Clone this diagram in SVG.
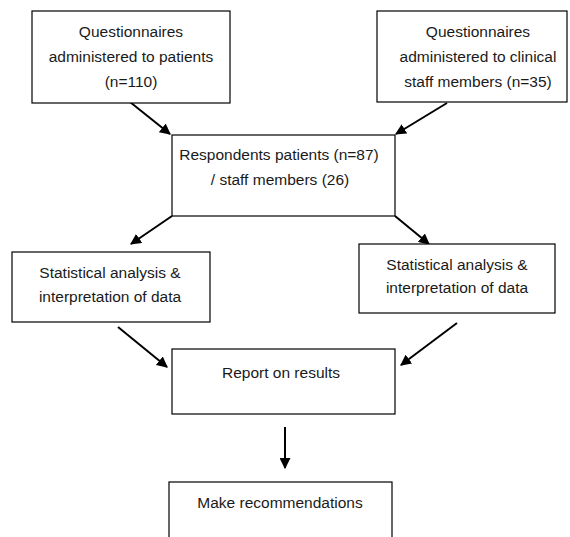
<svg xmlns="http://www.w3.org/2000/svg" width="570" height="537" viewBox="0 0 570 537">
<defs>
<style>
.box{fill:#fff;stroke:#000;stroke-width:1.2}
.t{font-family:"Liberation Sans",Arial,sans-serif;font-size:15.5px;fill:#1a1a1a;text-anchor:middle}
.c{stroke:#000;stroke-width:2;fill:none;marker-end:url(#ah)}
</style>
<marker id="ah" viewBox="0 0 10 10" refX="9" refY="5" markerWidth="5.5" markerHeight="5.5" orient="auto" markerUnits="strokeWidth">
<path d="M0,0 L10,5 L0,10 z" fill="#000"/>
</marker>
</defs>
<rect width="570" height="537" fill="#fff"/>
<g id="connectors">
<line class="c" x1="130" y1="102" x2="170" y2="134"/>
<line class="c" x1="447" y1="103" x2="396" y2="134"/>
<line class="c" x1="172" y1="216" x2="131" y2="244"/>
<line class="c" x1="395" y1="216" x2="429" y2="244"/>
<line class="c" x1="118" y1="327" x2="167" y2="367"/>
<line class="c" x1="457" y1="323" x2="401" y2="365"/>
<line class="c" x1="285" y1="427" x2="285" y2="468"/>
</g>
<g id="q-patients">
<rect class="box" x="32" y="11" width="198" height="92"/>
<text class="t" x="131" y="37">Questionnaires</text>
<text class="t" x="131" y="62">administered to patients</text>
<text class="t" x="131" y="87">(n=110)</text>
</g>
<g id="q-staff">
<rect class="box" x="377" y="11" width="190" height="91"/>
<text class="t" x="478" y="37">Questionnaires</text>
<text class="t" x="478" y="62">administered to clinical</text>
<text class="t" x="478" y="87">staff members (n=35)</text>
</g>
<g id="respondents">
<rect class="box" x="172" y="135" width="223" height="81"/>
<text class="t" x="279" y="160">Respondents patients (n=87)</text>
<text class="t" x="280" y="185">/ staff members (26)</text>
</g>
<g id="stats-left">
<rect class="box" x="12" y="252" width="198" height="70"/>
<text class="t" x="110" y="278">Statistical analysis &amp;</text>
<text class="t" x="110" y="302">interpretation of data</text>
</g>
<g id="stats-right">
<rect class="box" x="359" y="244" width="196" height="69"/>
<text class="t" x="457" y="270">Statistical analysis &amp;</text>
<text class="t" x="457" y="293">interpretation of data</text>
</g>
<g id="report">
<rect class="box" x="172" y="349" width="223" height="65"/>
<text class="t" x="281" y="378">Report on results</text>
</g>
<g id="recommend">
<rect class="box" x="169" y="482" width="223" height="70"/>
<text class="t" x="280" y="508">Make recommendations</text>
</g>
</svg>
